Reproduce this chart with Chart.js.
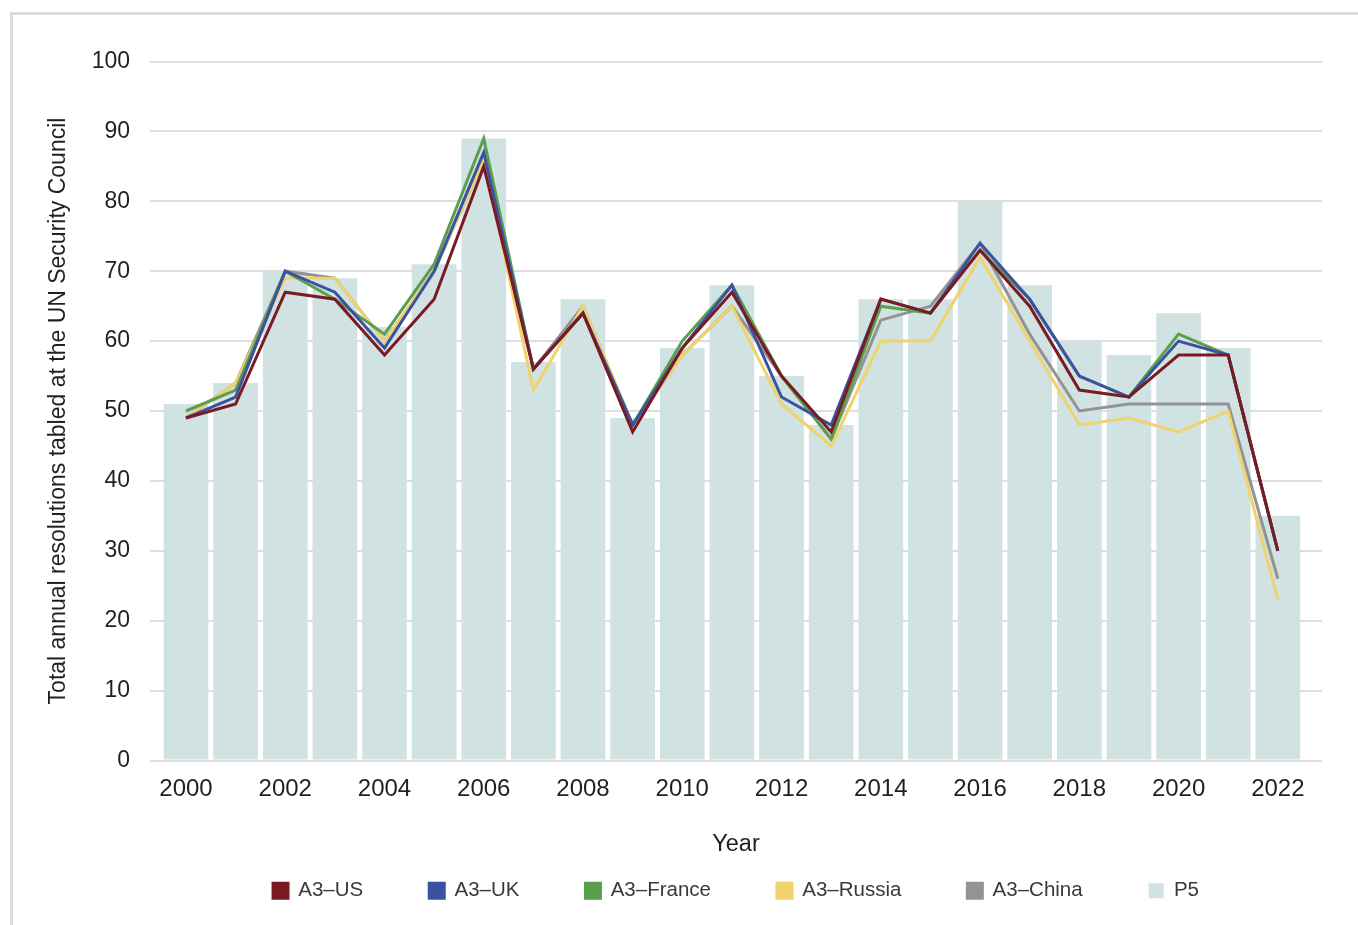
<!DOCTYPE html>
<html>
<head>
<meta charset="utf-8">
<script src="https://cdn.jsdelivr.net/npm/chart.js@4/dist/chart.umd.min.js"></script>
<style>
  html, body { margin: 0; padding: 0; background: #fff; overflow: hidden; }
  #frame { position: absolute; left: 10px; top: 12px; width: 1400px; height: 1000px; border: 3px solid #dcdcdc; box-sizing: border-box; }
  #wrap { position: absolute; left: 0; top: 0; width: 1358px; height: 925px; }
</style>
</head>
<body>
<div id="frame"></div>
<div id="wrap"><canvas id="chart" width="1358" height="925"></canvas></div>
<script>
// --- datos ---
const years = [2000, 2001, 2002, 2003, 2004, 2005, 2006, 2007, 2008, 2009, 2010, 2011,
               2012, 2013, 2014, 2015, 2016, 2017, 2018, 2019, 2020, 2021, 2022];
const p5     = [51, 54, 70, 69, 62, 71, 89, 57, 66, 49, 59, 68, 55, 48, 66, 66, 80, 68, 60, 58, 64, 59, 35];
const a3US     = [49, 51, 67, 66, 58, 66, 85, 56, 64, 47, 59, 67, 55, 47, 66, 64, 73, 65, 53, 52, 58, 58, 30];
const a3UK     = [49, 52, 70, 67, 59, 70, 87, 56, 64, 48, 59, 68, 52, 48, 66, 64, 74, 66, 55, 52, 60, 58, 30];
const a3France = [50, 53, 70, 66, 61, 71, 89, 56, 64, 48, 60, 68, 55, 46, 65, 64, 73, 66, 55, 52, 61, 58, 30];
const a3Russia = [49, 54, 69, 69, 60, 70, 86, 53, 65, 48, 58, 65, 51, 45, 60, 60, 72, 60, 48, 49, 47, 50, 23];
const a3China  = [49, 54, 70, 69, 60, 70, 86, 56, 65, 48, 58, 65, 55, 46, 63, 65, 74, 61, 50, 51, 51, 51, 26];
const yTicks = [0, 10, 20, 30, 40, 50, 60, 70, 80, 90, 100];
const xTickYears = years.filter(y => y % 2 === 0);

const FONT = '"Liberation Sans", Helvetica, Arial, sans-serif';
const TEXT = '#231f20';

const pts = vals => vals.map((v, i) => ({ x: years[i], y: v }));

function lineSet(label, vals, color) {
    return {
        type: 'line',
        label: label,
        data: pts(vals),
        borderColor: color,
        backgroundColor: color,
        borderWidth: 3,
        pointRadius: 0,
        tension: 0,
        order: 0
    };
}

// leyenda centrada sobre el área del gráfico
const legendPlace = {
    id: 'legendPlace',
    afterLayout(chart) {
        const lg = chart.legend;
        const area = chart.chartArea;
        lg.left = area.left;
        lg.right = area.right;
        lg.width = area.right - area.left;
    }
};

new Chart(document.getElementById('chart'), {
    type: 'bar',
    data: {
        datasets: [
            lineSet('A3\u2013US', a3US, '#7a1a22'),
            lineSet('A3\u2013UK', a3UK, '#3b52a0'),
            lineSet('A3\u2013France', a3France, '#5b9e4d'),
            lineSet('A3\u2013Russia', a3Russia, '#efd36c'),
            lineSet('A3\u2013China', a3China, '#939393'),
            {
                type: 'bar',
                label: 'P5',
                data: pts(p5),
                backgroundColor: '#d1e2e2',
                borderWidth: 0,
                barPercentage: 0.9,
                categoryPercentage: 1.0,
                order: 1
            }
        ]
    },
    options: {
        responsive: false,
        animation: false,
        layout: { padding: { top: 61.5, right: 36, bottom: 14, left: 0 } },
        plugins: {
            tooltip: { enabled: false },
            legend: {
                position: 'bottom',
                labels: {
                    boxWidth: 15,
                    boxHeight: 15,
                    padding: 66,
                    color: '#3a3a3a',
                    font: { family: FONT, size: 20.5 }
                }
            }
        },
        scales: {
            x: {
                type: 'linear',
                min: 1999.275,
                max: 2022.89,
                offset: false,
                grid: { display: false },
                border: { display: false },
                afterBuildTicks: scale => { scale.ticks = xTickYears.map(v => ({ value: v })); },
                afterFit: scale => { scale.height = 54; },
                ticks: {
                    padding: 6,
                    color: TEXT,
                    maxRotation: 0,
                    autoSkip: false,
                    font: { family: FONT, size: 24 },
                    callback: v => String(v)
                },
                title: {
                    display: true,
                    text: 'Year',
                    color: TEXT,
                    font: { family: FONT, size: 23.5 },
                    padding: { top: 0, bottom: -44 }
                }
            },
            y: {
                min: 0,
                max: 100,
                afterBuildTicks: scale => { scale.ticks = yTicks.map(v => ({ value: v })); },
                afterFit: scale => { scale.width = 150; },
                grid: { color: '#dedede', lineWidth: 2, drawTicks: false },
                border: { display: false },
                ticks: {
                    padding: 20,
                    color: TEXT,
                    font: { family: FONT, size: 23 }
                },
                title: {
                    display: true,
                    text: 'Total annual resolutions tabled at the UN Security Council',
                    color: TEXT,
                    font: { family: FONT, size: 23 },
                    padding: { top: 45, bottom: 0 }
                }
            }
        }
    },
    plugins: [legendPlace]
});
</script>
</body>
</html>
